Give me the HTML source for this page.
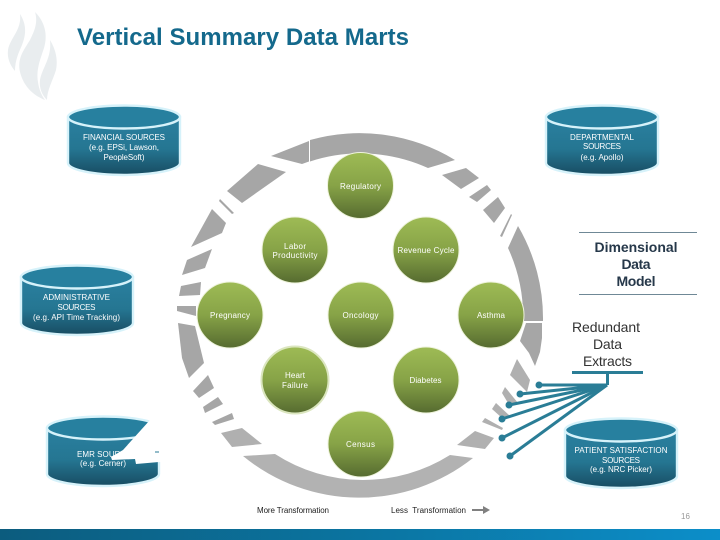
<!DOCTYPE html>
<html><head><meta charset="utf-8"><style>
html,body{margin:0;padding:0;background:#fff;width:720px;height:540px;overflow:hidden}
svg{display:block}
text{font-family:"Liberation Sans",sans-serif}
.w{fill:#fff;font-size:8px;text-anchor:middle}
.k{fill:#222;font-size:8px}
</style></head><body>
<svg width="720" height="540" viewBox="0 0 720 540" xmlns="http://www.w3.org/2000/svg">
<defs>
<linearGradient id="b" x1="0" y1="0" x2="0" y2="1"><stop offset="0" stop-color="#2a80a0"/><stop offset=".55" stop-color="#257692"/><stop offset="1" stop-color="#184c62"/></linearGradient>
<linearGradient id="g" x1="0" y1="0" x2="0" y2="1"><stop offset="0" stop-color="#9ebb55"/><stop offset=".5" stop-color="#87a347"/><stop offset="1" stop-color="#566b30"/></linearGradient>
<linearGradient id="f" x1="0" y1="0" x2="1" y2="0"><stop offset="0" stop-color="#0c5c7e"/><stop offset=".5" stop-color="#0b74a0"/><stop offset="1" stop-color="#0c8ec9"/></linearGradient>
<g id="cyl">
<path d="M0 12 V58 A56 12 0 0 0 112 58 V12 Z" fill="url(#b)" stroke="#d6f2fa" stroke-width="2.4"/>
<ellipse cx="56" cy="12" rx="56" ry="11.5" fill="#27809f" stroke="#d6f2fa" stroke-width="2.4"/>
</g>
</defs>

<!-- flame logo -->
<g fill="#e9edef">
<path d="M20 14 C27 25 26 35 22 45 C19 52 15 60 15 71 C10 65 7 58 8 50 C10 38 22 30 20 14 Z"/>
<path d="M35 12 C45 22 48 35 44 48 C40 60 36 70 38 82 C39 90 42 96 45 100 C35 96 24 88 20 72 C17 58 24 50 30 40 C35 30 38 22 35 12 Z"/>
<path d="M50 40 C56 50 58 60 56 70 C53 80 47 90 47 100 C42 95 39 88 40 80 C42 68 52 58 50 40 Z"/>
</g>

<text x="77" y="45" font-size="24" font-weight="bold" fill="#14698c" textLength="332">Vertical Summary Data Marts</text>

<!-- ring -->
<g fill="#a6a6a6">
<path d="M310 140 A183 183 0 0 1 455 160 L428 168 A163 163 0 0 0 310 161.5 Z"/>
<polygon points="309,141 271,156 302,164 309,161.5"/>
<polygon points="258,164 286,172 242,203 227,191"/>
<polygon points="220,199 234,213 232,214 219,201"/>
<polygon points="212,209 226,223 222,233 191,247"/>
<polygon points="212,249 205,268 182,275 187,260"/>
<polygon points="201,282 200,295 179,296 181,286"/>
<polygon points="177,306 196,306 196,316 177,311"/>
<polygon points="178,323 195,326 204,363 189,378 182,358"/>
<polygon points="208,375 214,388 199,398 193,391"/>
<polygon points="203,407 218,397 223,404 205,413"/>
<polygon points="212,422 232,413 234,419 215,425"/>
<polygon points="221,433 242,428 262,444 232,447" fill="#b0b0b0"/>
<path d="M243 456 L275 454 A163 163 0 0 0 450 455 L473 458 A183 183 0 0 1 243 456 Z" fill="#b2b2b2"/>
<polygon points="442,175 466,168 479,178 461,189"/>
<polygon points="469,197 487,185 491,190 477,202"/>
<polygon points="483,210 498,197 505,208 494,223"/>
<polygon points="500,236 511,214 512,215 502,237"/>
<path d="M518 226 A183 183 0 0 1 543 321 L523 321 A163 163 0 0 0 508 248 Z"/>
<polygon points="526,323 542,323 542,338 540,352 535,366 529,353 520,341"/>
<polygon points="517,359 530,380 527,392 510,375" fill="#b0b0b0"/>
<polygon points="505,387 518,403 508,403 502,393" fill="#b0b0b0"/>
<polygon points="496,403 510,416 502,418 492,409" fill="#b0b0b0"/>
<polygon points="485,418 503,428 502,430 482,422" fill="#b0b0b0"/>
<polygon points="475,431 494,438 485,449 457,445" fill="#b0b0b0"/>
</g>

<!-- cylinders -->
<use href="#cyl" x="68" y="105"/>
<use href="#cyl" x="546" y="105"/>
<use href="#cyl" x="21" y="265"/>
<use href="#cyl" x="47" y="416"/>
<use href="#cyl" x="565" y="418"/>

<text class="w" x="124" y="140" textLength="82">FINANCIAL SOURCES</text>
<text class="w" x="124" y="150" textLength="70">(e.g. EPSi, Lawson,</text>
<text class="w" x="124" y="160" textLength="41">PeopleSoft)</text>
<text class="w" x="602" y="140" textLength="64">DEPARTMENTAL</text>
<text class="w" x="602" y="149" textLength="38">SOURCES</text>
<text class="w" x="602" y="160" textLength="43">(e.g. Apollo)</text>
<text class="w" x="76.5" y="300" textLength="67">ADMINISTRATIVE</text>
<text class="w" x="76.5" y="310" textLength="38">SOURCES</text>
<text class="w" x="76.5" y="320" textLength="87">(e.g. API Time Tracking)</text>
<text class="w" x="107" y="457" textLength="60">EMR SOURCES</text>
<text class="w" x="103" y="466" textLength="46">(e.g. Cerner)</text>
<text class="w" x="621" y="453" textLength="93">PATIENT SATISFACTION</text>
<text class="w" x="621" y="463" textLength="38">SOURCES</text>
<text class="w" x="621" y="472" textLength="62">(e.g. NRC Picker)</text>

<!-- EMR white chunk -->
<polygon points="150,420 123,450 111,457 112,460 135,459 136,464 159,462 168,462 168,415 150,415" fill="#fff"/>
<rect x="155" y="451.5" width="4" height="1" fill="#2a7a96"/>

<!-- circles -->
<g fill="url(#g)" stroke="#eef3dc" stroke-width="1">
<circle cx="360.5" cy="185.5" r="33"/>
<circle cx="295" cy="250" r="33"/>
<circle cx="426" cy="250" r="33"/>
<circle cx="230" cy="315" r="33"/>
<circle cx="361" cy="315" r="33"/>
<circle cx="491" cy="315" r="33"/>
<circle cx="295" cy="380" r="33.5" stroke="#dbe6bf" stroke-width="2"/>
<circle cx="426" cy="380" r="33"/>
<circle cx="361" cy="444" r="33"/>
</g>
<text class="w" x="360.5" y="189" textLength="41">Regulatory</text>
<text class="w" x="295" y="249" textLength="22">Labor</text>
<text class="w" x="295" y="258" textLength="45">Productivity</text>
<text class="w" x="426" y="253" textLength="57">Revenue Cycle</text>
<text class="w" x="230" y="318" textLength="40">Pregnancy</text>
<text class="w" x="360.5" y="318" textLength="36">Oncology</text>
<text class="w" x="491" y="318" textLength="28">Asthma</text>
<text class="w" x="295" y="378" textLength="20">Heart</text>
<text class="w" x="295" y="388" textLength="26">Failure</text>
<text class="w" x="425.5" y="383" textLength="32">Diabetes</text>
<text class="w" x="360.5" y="447" textLength="29">Census</text>

<!-- headings right -->
<line x1="579" y1="232.5" x2="697" y2="232.5" stroke="#6f8896" stroke-width="1"/>
<line x1="579" y1="294.5" x2="697" y2="294.5" stroke="#6f8896" stroke-width="1"/>
<g fill="#26384a" font-size="14" font-weight="bold" text-anchor="middle">
<text x="636" y="252" textLength="83">Dimensional</text>
<text x="636" y="269" textLength="29">Data</text>
<text x="636" y="286" textLength="39">Model</text>
</g>
<g fill="#333" font-size="14" text-anchor="middle">
<text x="606" y="332" textLength="68">Redundant</text>
<text x="607.5" y="349" textLength="29">Data</text>
<text x="607.5" y="366" textLength="49">Extracts</text>
</g>

<!-- teal connectors -->
<g stroke="#2a7d96" stroke-width="3" fill="none">
<line x1="572" y1="372.5" x2="643" y2="372.5"/>
<line x1="607.5" y1="372" x2="607.5" y2="385"/>
<line x1="607" y1="385" x2="539" y2="385"/>
<line x1="607" y1="385" x2="520" y2="394"/>
<line x1="607" y1="385" x2="509" y2="405"/>
<line x1="607" y1="385" x2="502" y2="419"/>
<line x1="607" y1="385" x2="502" y2="438"/>
<line x1="607" y1="385" x2="510" y2="456"/>
</g>
<g fill="#2a7d96">
<circle cx="539" cy="385" r="3.5"/>
<circle cx="520" cy="394" r="3.5"/>
<circle cx="509" cy="405" r="3.5"/>
<circle cx="502" cy="419" r="3.5"/>
<circle cx="502" cy="438" r="3.5"/>
<circle cx="510" cy="456" r="3.5"/>
</g>

<!-- bottom labels -->
<text class="k" x="257" y="513" textLength="72">More Transformation</text>
<text class="k" x="391" y="513" textLength="75" xml:space="preserve">Less  Transformation</text>
<rect x="472" y="509" width="12" height="2" fill="#808080"/>
<polygon points="483,506 490,510 483,514" fill="#808080"/>
<text x="681" y="519" font-size="8" fill="#999">16</text>

<rect x="0" y="529" width="720" height="11" fill="url(#f)"/>
</svg>
</body></html>
